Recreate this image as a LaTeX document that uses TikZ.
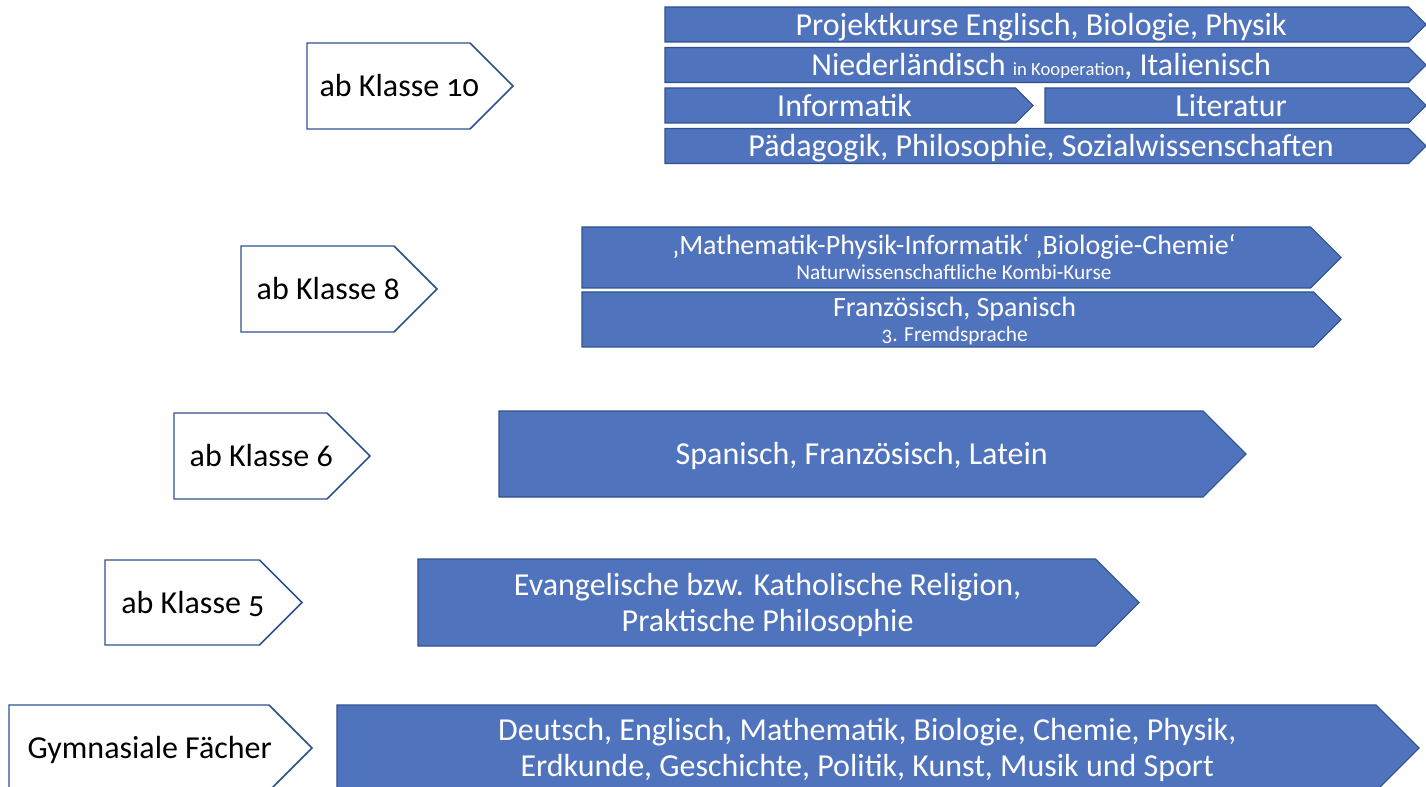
\documentclass[tikz,border=0pt]{standalone}
\usepackage{fontspec}
\setmainfont{Carlito}[Numbers=OldStyle]
\usetikzlibrary{calc}
\definecolor{barblue}{HTML}{5073BE}
\definecolor{rimblue}{HTML}{2F528F}

% home plate: style, x1, y1, x2 (tip), y2, name of text centre
\newcommand{\plate}[6]{%
  \pgfmathsetmacro\platexs{#4-(#5-#3)/2}%
  \pgfmathsetmacro\plateym{(#3+#5)/2}%
  \draw[#1] (#2,#3) -- (\platexs,#3) -- (#4,\plateym) -- (\platexs,#5) -- (#2,#5) -- cycle;
  \coordinate (#6) at ({(#2+(\platexs+#4)/2)/2},\plateym);}

\begin{document}
\begin{tikzpicture}[x=.75pt,y=-.75pt,
  klasse/.style={draw=rimblue,fill=white,line width=1.1pt},
  fachbar/.style={draw=rimblue,fill=barblue,line width=.8pt},
  big/.style={font=\fontsize{24}{27}\selectfont,inner sep=0pt,text height=15.8pt,text depth=0pt},
  mid/.style={font=\fontsize{21}{24}\selectfont,inner sep=0pt,text height=13.9pt,text depth=0pt},
  small/.style={font=\fontsize{16}{18}\selectfont,inner sep=0pt,text height=10.6pt,text depth=0pt},
  onbar/.style={text=white}]
  \useasboundingbox (0,0) rectangle (1426,787);

  % ab Klasse 10
  \plate{klasse}{307}{43}{513}{129}{k10}
  \node[big] (k10t) at (k10) {ab Klasse 10};
  \plate{fachbar}{665}{7}{1426}{42}{pk}
  \node[big,onbar] (pkt) at (pk) {Projektkurse Englisch, Biologie, Physik};
  \plate{fachbar}{665}{47.5}{1426}{82.5}{nl}
  \node[big,onbar] (nlt) at (nl) {Niederländisch {\fontsize{14}{16}\selectfont in Kooperation}, Italienisch};
  \plate{fachbar}{665}{88}{1033}{123}{inf}
  \node[big,onbar] (inft) at (inf) {Informatik};
  \plate{fachbar}{1045}{88}{1426}{123}{lit}
  \node[big,onbar] (litt) at (lit) {Literatur};
  \plate{fachbar}{665}{128.5}{1426}{163.5}{pae}
  \node[big,onbar] (paet) at (pae) {Pädagogik, Philosophie, Sozialwissenschaften};

  % ab Klasse 8
  \plate{klasse}{241}{246}{437}{332}{k8}
  \node[big] (k8t) at (k8) {ab Klasse 8};
  \plate{fachbar}{582}{227}{1341}{288}{nw}
  \node[mid,onbar] (nwa) at ($(nw)+(0,-12.5)$) {‚Mathematik-Physik-Informatik‘ ‚Biologie-Chemie‘};
  \node[small,onbar] (nwb) at ($(nw)+(0,14.5)$) {Naturwissenschaftliche Kombi-Kurse};
  \plate{fachbar}{582}{292}{1341}{347}{fs}
  \node[mid,onbar] (fsa) at ($(fs)+(0,-12.5)$) {Französisch, Spanisch};
  \node[small,onbar] (fsb) at ($(fs)+(0,15)$) {3. Fremdsprache};

  % ab Klasse 6
  \plate{klasse}{174}{413}{370}{499}{k6}
  \node[big] (k6t) at (k6) {ab Klasse 6};
  \plate{fachbar}{499}{411}{1246}{497}{sp}
  \node[big,onbar] (spt) at (sp) {Spanisch, Französisch, Latein};

  % ab Klasse 5
  \plate{klasse}{105}{560}{302}{645}{k5}
  \node[big] (k5t) at (k5) {ab Klasse 5};
  \plate{fachbar}{418}{559}{1139}{646}{rel}
  \node[big,onbar] (rela) at ($(rel)+(0,-18)$) {Evangelische bzw. Katholische Religion,};
  \node[big,onbar] (relb) at ($(rel)+(0,18)$) {Praktische Philosophie};

  % Gymnasiale Faecher
  \plate{klasse}{9}{705}{312}{791}{gym}
  \node[big] (gymt) at (gym) {Gymnasiale Fächer};
  \plate{fachbar}{337}{705}{1419}{791}{all}
  \node[big,onbar] (alla) at ($(all)+(0,-18)$) {Deutsch, Englisch, Mathematik, Biologie, Chemie, Physik,};
  \node[big,onbar] (allb) at ($(all)+(0,18)$) {Erdkunde, Geschichte, Politik, Kunst, Musik und Sport};
\end{tikzpicture}
\end{document}
